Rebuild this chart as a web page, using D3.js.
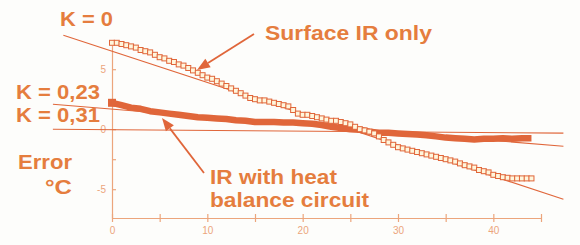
<!DOCTYPE html>
<html>
<head>
<meta charset="utf-8">
<script src="https://cdn.jsdelivr.net/npm/d3@7"></script>
<style>
  body { margin: 0; background: #fdfdfb; }
  svg { display: block; }
  text { font-family: "Liberation Sans", Arial, sans-serif; }
</style>
</head>
<body>
<div id="chart"></div>
<script>
// Data (time in minutes on x, error in °C on y)
const surfaceX = d3.range(0, 44.01, 0.5);
const surfaceIR = [
  7.2, 7.2, 7.1, 7.0, 6.9, 6.8, 6.6, 6.5, 6.4, 6.2,
  6.0, 5.9, 5.7, 5.6, 5.4, 5.3, 5.1, 4.9, 4.7, 4.5,
  4.3, 4.2, 4.0, 3.8, 3.6, 3.4, 3.2, 3.0, 2.8, 2.6,
  2.5, 2.4, 2.4, 2.3, 2.2, 2.1, 2.0, 1.9, 1.6, 1.3,
  1.2, 1.2, 1.1, 1.0, 0.9, 0.8, 0.7, 0.7, 0.6, 0.5,
  0.4, 0.2, 0.0, -0.1, -0.2, -0.35, -0.6, -0.9, -1.1, -1.3,
  -1.5, -1.6, -1.7, -1.8, -1.9, -2.0, -2.1, -2.2, -2.3, -2.4,
  -2.5, -2.6, -2.7, -2.85, -3.0, -3.1, -3.2, -3.4, -3.5, -3.6,
  -3.8, -3.9, -4.0, -4.05, -4.1, -4.1, -4.1, -4.1, -4.1
];
const heatX = d3.range(0, 44.01, 1);
const heatBalance = [
  2.2, 2.0, 1.8, 1.7, 1.5, 1.4, 1.3, 1.2, 1.1, 1.0,
  0.95, 0.9, 0.85, 0.75, 0.7, 0.6, 0.6, 0.6, 0.55, 0.55,
  0.5, 0.45, 0.35, 0.2, 0.1, 0.0, -0.05, -0.2, -0.3, -0.3,
  -0.35, -0.4, -0.45, -0.5, -0.6, -0.7, -0.75, -0.8, -0.85, -0.8,
  -0.8, -0.75, -0.8, -0.75, -0.75
];
// straight fit lines for each K, as [x, y] end points
const fitK0 = [[-5.1, 7.83], [47.35, -5.83]];
const fitK023 = [[-6.2, 2.08], [47.35, -1.42]];
const fitK031 = [[-6.2, 0], [47.35, -0.33]];

const xTicks = d3.range(0, 45.1, 5);
const xLabels = [0, 10, 20, 30, 40];
const yTicks = [-5, -2.5, 0, 2.5, 5];
const yLabels = [-5, 0, 5];

const ink = "#e0663a";
const textInk = "#e57d3e";
const axisInk = "#eca57c";

const svg = d3.select("#chart").append("svg")
    .attr("width", 580)
    .attr("height", 245);

svg.append("rect").attr("width", 580).attr("height", 245).attr("fill", "#fdfdfb");

const x = d3.scaleLinear().domain([0, 45]).range([112, 541]);
const y = d3.scaleLinear().domain([-7.4, 7]).range([218, 45.2]);

// Axes
const xAxis = svg.append("g")
    .attr("transform", `translate(0,${y(-7.4)})`)
    .call(d3.axisBottom(x).tickValues(xTicks).tickSize(4).tickSizeOuter(0)
      .tickFormat(d => xLabels.includes(d) ? d : ""));
xAxis.select(".domain").attr("stroke", axisInk).attr("stroke-width", 1.2);
xAxis.selectAll(".tick line").attr("stroke", axisInk).attr("y1", -4).attr("stroke-width", 1.2);
xAxis.selectAll(".tick text").attr("fill", axisInk).attr("font-size", 10).attr("dy", "0.9em");

const yAxis = svg.append("g")
    .attr("transform", `translate(${x(0)},0)`)
    .call(d3.axisLeft(y).tickValues(yTicks).tickSize(4).tickSizeOuter(0)
      .tickFormat(d => yLabels.includes(d) ? d : ""));
yAxis.select(".domain").attr("stroke", axisInk).attr("stroke-width", 1.2);
yAxis.selectAll(".tick line").attr("stroke", axisInk).attr("x2", 4).attr("stroke-width", 1.2);
yAxis.selectAll(".tick text").attr("fill", axisInk).attr("font-size", 10).attr("x", -6);

// Fit lines
const line = d3.line().x(d => x(d[0])).y(d => y(d[1]));
[fitK0, fitK023, fitK031].forEach(f => {
  svg.append("path").attr("d", line(f))
      .attr("fill", "none").attr("stroke", ink).attr("stroke-width", 1.1);
});

// IR with heat balance circuit: thick filled trace
const heatData = heatX.map((v, i) => [v, heatBalance[i]]);
svg.append("path").attr("d", line(heatData))
    .attr("fill", "none").attr("stroke", ink)
    .attr("stroke-width", 6.5).attr("stroke-linejoin", "round");
svg.append("rect")
    .attr("x", x(0) - 4).attr("y", y(heatBalance[0]) - 4)
    .attr("width", 8).attr("height", 8).attr("fill", ink);

// Surface IR only: open squares
svg.append("g").selectAll("rect")
  .data(surfaceX.map((v, i) => [v, surfaceIR[i]]))
  .join("rect")
    .attr("x", d => x(d[0]) - 2.5)
    .attr("y", d => y(d[1]) - 2.5)
    .attr("width", 5).attr("height", 5)
    .attr("fill", "#fff6dc")
    .attr("stroke", ink).attr("stroke-width", 1);

// Annotations (text widths matched to the picture)
const label = (t, px, py, w) => svg.append("text")
    .attr("x", px).attr("y", py)
    .attr("font-size", 20).attr("font-weight", "bold")
    .attr("textLength", w).attr("lengthAdjust", "spacingAndGlyphs")
    .attr("fill", textInk).text(t);

label("K = 0", 60, 26, 53);
label("Surface IR only", 265, 40, 167);
label("K = 0,23", 16, 99, 84);
label("K = 0,31", 16, 122, 84);
label("Error", 18, 169, 54);
label("°C", 45, 194, 27);
label("IR with heat", 210, 184, 127);
label("balance circuit", 210, 207, 159);

function arrow(x1, y1, x2, y2) {
  const a = Math.atan2(y2 - y1, x2 - x1);
  const len = 13, w = 5;
  const bx = x2 - len * Math.cos(a), by = y2 - len * Math.sin(a);
  svg.append("line")
      .attr("x1", x1).attr("y1", y1).attr("x2", bx).attr("y2", by)
      .attr("stroke", ink).attr("stroke-width", 1.8);
  svg.append("polygon")
      .attr("points", [
        [x2, y2],
        [bx + w * Math.sin(a), by - w * Math.cos(a)],
        [bx - w * Math.sin(a), by + w * Math.cos(a)]
      ].map(p => p.join(",")).join(" "))
      .attr("fill", ink);
}
arrow(254, 34, 197, 70);
arrow(204, 173, 162, 118);
</script>
</body>
</html>
